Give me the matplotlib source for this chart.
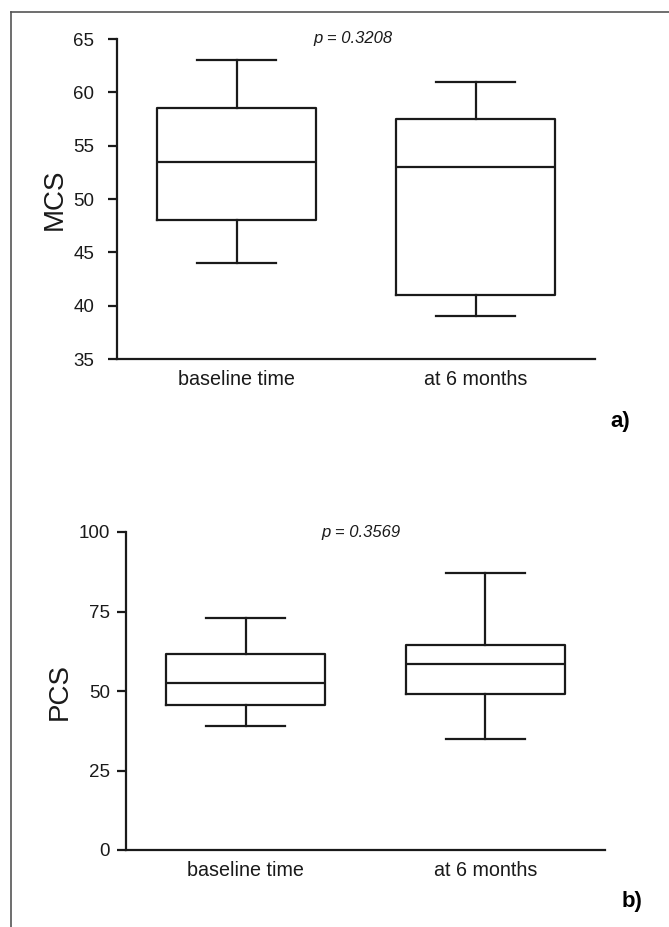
import matplotlib
matplotlib.use("Agg")
import matplotlib.pyplot as plt
from matplotlib.lines import Line2D

plt.rcParams['font.family'] = ['Liberation Sans', 'DejaVu Sans']

categories = ["baseline time", "at 6 months"]

# MCS: (whisker low, Q1, median, Q3, whisker high)
mcs_stats = [(44, 48, 53.5, 58.5, 63), (39, 41, 53, 57.5, 61)]
pcs_stats = [(39, 45.5, 52.5, 61.5, 73), (35, 49, 58.5, 64.5, 87)]
mcs_ticks = [35, 40, 45, 50, 55, 60, 65]
pcs_ticks = [0, 25, 50, 75, 100]
p_mcs = "p = 0.3208"
p_pcs = "p = 0.3569"

fig = plt.figure(figsize=(6.69, 9.27), dpi=100)

def make_bxp(stats):
    out = []
    for lbl, (wl, q1, med, q3, wh) in zip(categories, stats):
        out.append(dict(label=lbl, whislo=wl, q1=q1, med=med, q3=q3, whishi=wh, fliers=[]))
    return out

def draw(ax, stats, ticks, ylabel, ptext, ytickpad, px, ylabpad):
    lw = 1.6
    c = '#1a1a1a'
    ax.bxp(make_bxp(stats), positions=[1, 2], widths=0.665, showfliers=False,
           boxprops=dict(color=c, linewidth=lw),
           whiskerprops=dict(color=c, linewidth=lw),
           capprops=dict(color=c, linewidth=lw),
           medianprops=dict(color=c, linewidth=lw),
           capwidths=0.33)
    ax.set_xlim(0.5, 2.5)
    ax.set_ylim(ticks[0], ticks[-1])
    ax.set_yticks(ticks)
    ax.spines['top'].set_visible(False)
    ax.spines['right'].set_visible(False)
    for s in ('left', 'bottom'):
        ax.spines[s].set_linewidth(1.6)
        ax.spines[s].set_color(c)
    ax.tick_params(axis='y', direction='out', length=6.5, width=1.6, labelsize=13.5,
                   pad=ytickpad, color=c, labelcolor=c)
    ax.tick_params(axis='x', length=0, labelsize=14.2, pad=8, labelcolor=c)
    ax.set_ylabel(ylabel, fontsize=20, labelpad=ylabpad, color=c)
    ax.text(px, 1.0, ptext, transform=ax.transAxes, ha='left', va='center',
            fontsize=12, style='italic', color=c)
    ax.patch.set_alpha(0)

ax1 = fig.add_axes([117/669, 1 - 359/927, 478/669, 320/927])
draw(ax1, mcs_stats, mcs_ticks, "MCS", p_mcs, 10, 0.41, 4)

ax2 = fig.add_axes([126/669, 1 - 850/927, 479/669, 318/927])
draw(ax2, pcs_stats, pcs_ticks, "PCS", p_pcs, 5, 0.407, 4)

fig.text(610/669, 1 - 421/927, "a)", fontsize=16, fontweight='bold', ha='left', va='center')
fig.text(622/669, 1 - 901/927, "b)", fontsize=16, fontweight='bold', ha='left', va='center')

# outer frame (top and left edges)
fig.add_artist(Line2D([11/669, 1.0], [1 - 12/927, 1 - 12/927], transform=fig.transFigure,
                      color='#555555', linewidth=1.2))
fig.add_artist(Line2D([11/669, 11/669], [0.0, 1 - 12/927], transform=fig.transFigure,
                      color='#555555', linewidth=1.2))

fig.savefig("out.png", dpi=100, facecolor='white')
